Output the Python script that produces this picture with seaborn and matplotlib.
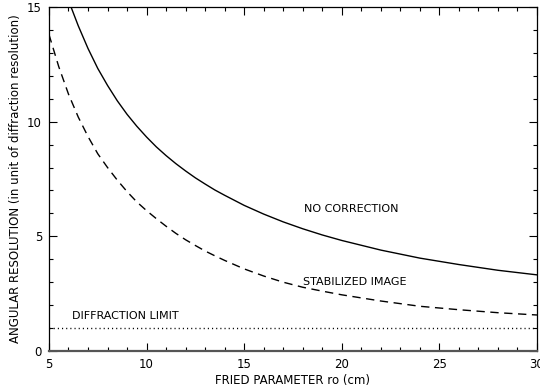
import numpy as np
import pandas as pd
import matplotlib
matplotlib.use("Agg")
import matplotlib.pyplot as plt
import seaborn as sns
from matplotlib.ticker import MultipleLocator

# Data
r0_nocorr = [6.13, 6.5, 7, 7.5, 8, 8.5, 9, 9.5, 10, 10.5, 11, 11.5, 12, 12.5, 13, 13.5,
             14, 15, 16, 17, 18, 19, 20, 22, 24, 26, 28, 30]
res_nocorr = [15.0, 14.18, 13.19, 12.32, 11.58, 10.91, 10.32, 9.80, 9.33, 8.90, 8.52, 8.17,
              7.85, 7.55, 7.28, 7.02, 6.79, 6.35, 5.97, 5.63, 5.33, 5.06, 4.82, 4.40,
              4.05, 3.77, 3.52, 3.32]

r0_stab = [5, 5.5, 6, 6.5, 7, 7.5, 8, 8.5, 9, 9.5, 10, 10.5, 11, 11.5, 12, 12.5, 13, 13.5,
           14, 15, 16, 17, 18, 19, 20, 22, 24, 26, 28, 30]
res_stab = [13.8, 12.4, 11.2, 10.2, 9.35, 8.6, 8.0, 7.45, 6.95, 6.5, 6.12, 5.77, 5.44, 5.13,
            4.85, 4.6, 4.36, 4.15, 3.95, 3.58, 3.27, 3.0, 2.78, 2.61, 2.45, 2.18, 1.95,
            1.80, 1.67, 1.57]

r0_diff = [5, 30]
res_diff = [1.0, 1.0]

x_ticks = [5, 10, 15, 20, 25, 30]
y_ticks = [0, 5, 10, 15]

sns.set_style("ticks")
plt.rcParams['font.family'] = ['DejaVu Sans']
plt.rcParams['text.color'] = 'black'
plt.rcParams['axes.labelcolor'] = 'black'
plt.rcParams['xtick.color'] = 'black'
plt.rcParams['ytick.color'] = 'black'

fig = plt.figure(figsize=(5.4, 3.91), dpi=100)
ax = fig.add_axes([0.0907, 0.1023, 0.9037, 0.8798])

df1 = pd.DataFrame({"r0": r0_nocorr, "res": res_nocorr})
df2 = pd.DataFrame({"r0": r0_stab, "res": res_stab})
df3 = pd.DataFrame({"r0": r0_diff, "res": res_diff})

sns.lineplot(data=df1, x="r0", y="res", ax=ax, color="black", lw=1.0)
sns.lineplot(data=df2, x="r0", y="res", ax=ax, color="black", lw=1.0)
ax.lines[-1].set_dashes([6, 4])
sns.lineplot(data=df3, x="r0", y="res", ax=ax, color="black", lw=1.0)
ax.lines[-1].set_dashes([0.8, 2.2])

ax.set_xlim(5, 30)
ax.set_ylim(0, 15)
ax.set_xticks(x_ticks)
ax.set_yticks(y_ticks)
ax.set_xticklabels([str(t) for t in x_ticks])
ax.set_yticklabels([str(t) for t in y_ticks])
ax.xaxis.set_minor_locator(MultipleLocator(1))
ax.yaxis.set_minor_locator(MultipleLocator(1))
ax.tick_params(which="both", direction="in", top=True, right=True, width=0.8,
               labelsize=8.5, pad=5, colors="black")
ax.tick_params(which="major", length=6)
ax.tick_params(which="minor", length=3)
for s in ax.spines.values():
    s.set_linewidth(0.9)
    s.set_color("black")
    s.set_visible(True)
ax.spines["bottom"].set_linewidth(1.6)
ax.spines["bottom"].set_color("#555555")

ax.set_xlabel("FRIED PARAMETER ro (cm)", fontsize=8.5, labelpad=2)
ax.set_ylabel("ANGULAR RESOLUTION (in unit of diffraction resolution)", fontsize=8.5, labelpad=4)

ax.text(18.08, 6.2, "NO CORRECTION", fontsize=8, va="center", ha="left")
ax.text(18.03, 3.0, "STABILIZED IMAGE", fontsize=8, va="center", ha="left")
ax.text(6.18, 1.53, "DIFFRACTION LIMIT", fontsize=8, va="center", ha="left")

fig.savefig("out.png", dpi=100)
